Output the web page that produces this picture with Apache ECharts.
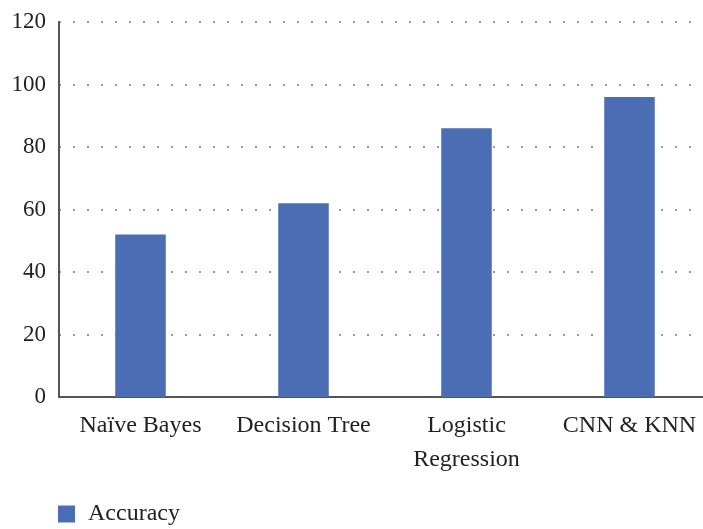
<!DOCTYPE html>
<html>
<head>
<meta charset="utf-8">
<script src="https://cdn.jsdelivr.net/npm/echarts@6/dist/echarts.min.js"></script>
<style>
  html, body { margin: 0; padding: 0; background: #fff; }
  #chart { width: 703px; height: 529px; }
</style>
</head>
<body>
<div id="chart"></div>
<script>
const categories = ['Naïve Bayes', 'Decision Tree', 'Logistic\nRegression', 'CNN & KNN'];
const accuracy = [52, 62, 86, 96];
const yTicks = [0, 20, 40, 60, 80, 100, 120];

const chart = echarts.init(document.getElementById('chart'));
const font = '"Liberation Serif", "DejaVu Serif", serif';
chart.setOption({
  animation: false,
  textStyle: { fontFamily: font },
  grid: { left: 59, width: 652, top: 22, height: 375, outerBoundsMode: 'none' },
  legend: {
    left: 53,
    top: 497,
    itemWidth: 17,
    itemHeight: 17,
    itemGap: 10,
    icon: 'rect',
    textStyle: { fontFamily: font, fontSize: 24, color: '#222', padding: [0, 0, 0, 8] },
    data: ['Accuracy']
  },
  xAxis: {
    type: 'category',
    data: categories,
    axisLine: { lineStyle: { color: '#555', width: 2 } },
    axisTick: { show: false },
    axisLabel: {
      fontFamily: font, fontSize: 24, color: '#222',
      margin: 12, lineHeight: 34, interval: 0
    }
  },
  yAxis: {
    type: 'value',
    min: yTicks[0],
    max: yTicks[yTicks.length - 1],
    interval: 20,
    axisLine: { show: true, lineStyle: { color: '#555', width: 2 } },
    axisTick: { show: false },
    axisLabel: { fontFamily: font, fontSize: 23, color: '#222', margin: 13 },
    splitLine: { lineStyle: { color: '#999', type: [2, 12], width: 2 } }
  },
  series: [{
    name: 'Accuracy',
    type: 'bar',
    data: accuracy,
    barWidth: '31%',
    itemStyle: { color: '#4a6db3' }
  }]
});
</script>
</body>
</html>
